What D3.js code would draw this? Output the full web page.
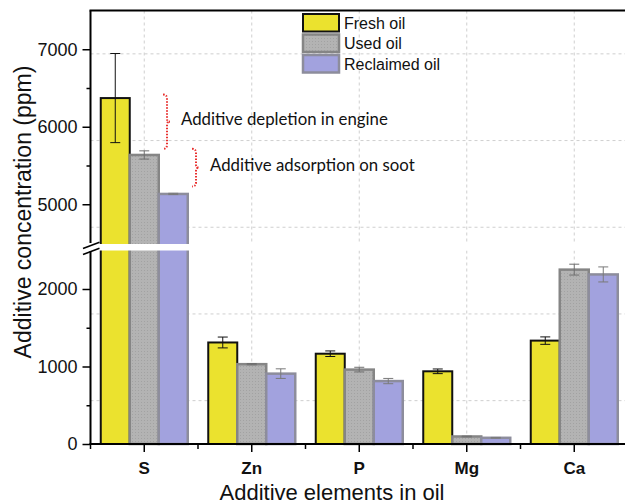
<!DOCTYPE html>
<html>
<head>
<meta charset="utf-8">
<script src="https://cdn.jsdelivr.net/npm/d3@7"></script>
<style>
  body { margin: 0; background: #fff; }
  svg { display: block; font-family: "Liberation Sans", Arial, sans-serif; }
</style>
</head>
<body>
<div id="chart"></div>
<script>
// Dados
const elements = ['S', 'Zn', 'P', 'Mg', 'Ca'];
const seriesNames = ['Fresh oil', 'Used oil', 'Reclaimed oil'];
const freshOil = [6370, 1310, 1165, 938, 1334];
const usedOil = [5636, 1030, 960, 97, 2250];
const reclaimedOil = [5133, 908, 812, 80, 2188];
const freshErr = [575, 70, 36, 30, 48];
const usedErr = [53, 8, 30, 5, 70];
const reclaimedErr = [8, 62, 34, 5, 97];
const lowerTicks = [0, 1000, 2000];
const lowerMinor = [500, 1500];
const upperTicks = [5000, 6000, 7000];
const upperMinor = [5500, 6500];
const lowerDomain = [0, 2500];
const upperDomain = [4500, 7500];
const notes = [
  { text: 'Additive depletion in engine', from: 6415, to: 5715 },
  { text: 'Additive adsorption on soot', from: 5715, to: 5230 }
];

const W = 625, H = 503;
const mLeft = 90.5, mRight = 628, mTop = 10.5, mBottom = 444;

const svg = d3.select('#chart').append('svg')
  .attr('width', W).attr('height', H);

// Escalas (eixo Y quebrado em dois segmentos)
const x = d3.scaleBand().domain(elements).range([mLeft, mRight]);
const yLow = d3.scaleLinear().domain(lowerDomain).range([mBottom, 250.25]);
const yUp = d3.scaleLinear().domain(upperDomain).range([243, mTop]);
const yv = v => v >= upperDomain[0] ? yUp(v) : yLow(v);

// Grade
const grid = svg.append('g')
  .attr('stroke', '#cfcfcf').attr('stroke-width', 1).attr('stroke-dasharray', '3,3');
const step = (mBottom - mTop) / 5;
d3.range(5).forEach(k => {
  const gy = mBottom - (k + 0.5) * step;
  grid.append('line').attr('x1', mLeft).attr('x2', mRight).attr('y1', gy).attr('y2', gy);
});
elements.forEach(e => {
  const gx = x(e) + x.bandwidth() / 2;
  grid.append('line').attr('x1', gx).attr('x2', gx).attr('y1', mTop).attr('y2', mBottom);
});

// Barras
const barW = 29;
const styles = [
  { fill: '#ebe22e', stroke: '#111', sw: 2, err: '#111' },
  { fill: '#b1b1b1', stroke: '#858585', sw: 2.5, err: '#6f6f6f' },
  { fill: '#a2a2de', stroke: '#8d8d9c', sw: 2.5, err: '#7a7a7a' }
];
const seriesVals = [freshOil, usedOil, reclaimedOil];
const seriesErr = [freshErr, usedErr, reclaimedErr];

const defs = svg.append('defs');
const pat = defs.append('pattern').attr('id', 'dots')
  .attr('width', 3).attr('height', 3).attr('patternUnits', 'userSpaceOnUse');
pat.append('rect').attr('width', 3).attr('height', 3).attr('fill', '#b3b3b3');
pat.append('rect').attr('width', 1).attr('height', 1).attr('fill', '#a2a2a2');

seriesVals.forEach((vals, s) => {
  const st = styles[s];
  svg.append('g').selectAll('rect')
    .data(vals)
    .enter()
    .append('rect')
    .attr('x', (d, i) => x(elements[i]) + x.bandwidth() / 2 + (s - 1.5) * barW)
    .attr('y', d => yv(d))
    .attr('width', barW)
    .attr('height', d => mBottom - yv(d))
    .attr('fill', s === 1 ? 'url(#dots)' : st.fill)
    .attr('stroke', st.stroke)
    .attr('stroke-width', st.sw);
});

// Barras de erro
seriesVals.forEach((vals, s) => {
  const g = svg.append('g').attr('stroke', styles[s].err).attr('stroke-width', 1);
  vals.forEach((v, i) => {
    const cx = x(elements[i]) + x.bandwidth() / 2 + (s - 1) * barW;
    const e = seriesErr[s][i];
    const y1 = yv(v + e), y2 = yv(v - e);
    g.append('line').attr('x1', cx).attr('x2', cx).attr('y1', y1).attr('y2', y2);
    [y1, y2].forEach(yy => {
      g.append('line').attr('x1', cx - 5).attr('x2', cx + 5).attr('y1', yy).attr('y2', yy);
    });
  });
});

// Faixa branca da quebra
svg.append('rect')
  .attr('x', mLeft + 1).attr('y', 244).attr('width', mRight - mLeft).attr('height', 6.5)
  .attr('fill', '#fff');

// Eixos
const axLow = svg.append('g').attr('transform', `translate(${mLeft},0)`)
  .call(d3.axisLeft(yLow).tickValues(lowerTicks).tickSize(8).tickPadding(5).tickFormat(d3.format('d')));
const axUp = svg.append('g').attr('transform', `translate(${mLeft},0)`)
  .call(d3.axisLeft(yUp).tickValues(upperTicks).tickSize(8).tickPadding(5).tickFormat(d3.format('d')));
svg.append('g').attr('transform', `translate(${mLeft},0)`)
  .call(d3.axisLeft(yLow).tickValues(lowerMinor).tickSize(4).tickFormat(''));
svg.append('g').attr('transform', `translate(${mLeft},0)`)
  .call(d3.axisLeft(yUp).tickValues(upperMinor).tickSize(4).tickFormat(''));

const axX = svg.append('g').attr('transform', `translate(0,${mBottom})`)
  .call(d3.axisBottom(x).tickSize(8).tickPadding(10));
const minorX = elements.map(e => x(e)).concat([mRight]);
svg.append('g').attr('stroke', '#000').attr('stroke-width', 1.5)
  .selectAll('line').data(minorX).enter().append('line')
  .attr('x1', d => d).attr('x2', d => d).attr('y1', mBottom).attr('y2', mBottom + 5);

svg.selectAll('.domain').remove();
svg.selectAll('.tick line').attr('stroke', '#000').attr('stroke-width', 1.5);
axLow.selectAll('text').style('font-size', '18px').attr('fill', '#111');
axUp.selectAll('text').style('font-size', '18px').attr('fill', '#111');
axX.selectAll('text').style('font-size', '17px').style('font-weight', 'bold').attr('fill', '#111');

// Linhas dos eixos e borda superior
const frame = svg.append('g').attr('stroke', '#000').attr('stroke-width', 2).attr('fill', 'none');
frame.append('line').attr('x1', mLeft).attr('x2', mLeft).attr('y1', mTop).attr('y2', 243);
frame.append('line').attr('x1', mLeft).attr('x2', mLeft).attr('y1', 251).attr('y2', mBottom + 1);
frame.append('line').attr('x1', mLeft - 1).attr('x2', mRight).attr('y1', mBottom).attr('y2', mBottom);
frame.append('line').attr('x1', mLeft - 1).attr('x2', mRight).attr('y1', mTop).attr('y2', mTop);
frame.append('line').attr('x1', 83).attr('x2', 99.5).attr('y1', 248.5).attr('y2', 242.3).attr('stroke-width', 1.5);
frame.append('line').attr('x1', 83).attr('x2', 99.5).attr('y1', 254.5).attr('y2', 248.3).attr('stroke-width', 1.5);

// Títulos
svg.append('text')
  .attr('x', 332).attr('y', 499.5)
  .attr('text-anchor', 'middle').style('font-size', '22px').attr('fill', '#111')
  .text('Additive elements in oil');
svg.append('text')
  .attr('transform', 'translate(31,212) rotate(-90)')
  .attr('text-anchor', 'middle').style('font-size', '23px').attr('fill', '#111')
  .text('Additive concentration (ppm)');

// Legenda
const legend = svg.append('g').attr('transform', 'translate(303,14)');
seriesNames.forEach((name, i) => {
  const st = styles[i];
  legend.append('rect')
    .attr('x', 0).attr('y', i * 20.5).attr('width', 36).attr('height', 17.5)
    .attr('fill', i === 1 ? 'url(#dots)' : st.fill)
    .attr('stroke', st.stroke).attr('stroke-width', st.sw);
  legend.append('text')
    .attr('x', 41).attr('y', i * 20.5 + 14.5)
    .style('font-size', '16px').attr('fill', '#111')
    .text(name);
});

// Anotações com chaves vermelhas pontilhadas
const noteX = [167, 196];
notes.forEach((n, i) => {
  const bx = noteX[i];
  const y0 = yUp(n.from), y1 = yUp(n.to), ym = (y0 + y1) / 2;
  const p = d3.path();
  p.moveTo(bx - 4, y0);
  p.quadraticCurveTo(bx, y0, bx, y0 + 4);
  p.lineTo(bx, ym - 3);
  p.quadraticCurveTo(bx, ym, bx + 3, ym);
  p.quadraticCurveTo(bx, ym, bx, ym + 3);
  p.lineTo(bx, y1 - 4);
  p.quadraticCurveTo(bx, y1, bx - 4, y1);
  svg.append('path').attr('d', p.toString())
    .attr('fill', 'none').attr('stroke', '#e8302f').attr('stroke-width', 2)
    .attr('stroke-dasharray', '1.5,1.5');
  svg.append('text')
    .attr('x', bx + 14).attr('y', ym + 3.5)
    .style('font-family', 'Lato, "Open Sans", sans-serif').style('font-size', '16.8px')
    .attr('fill', '#111')
    .text(n.text);
});
</script>
</body>
</html>
